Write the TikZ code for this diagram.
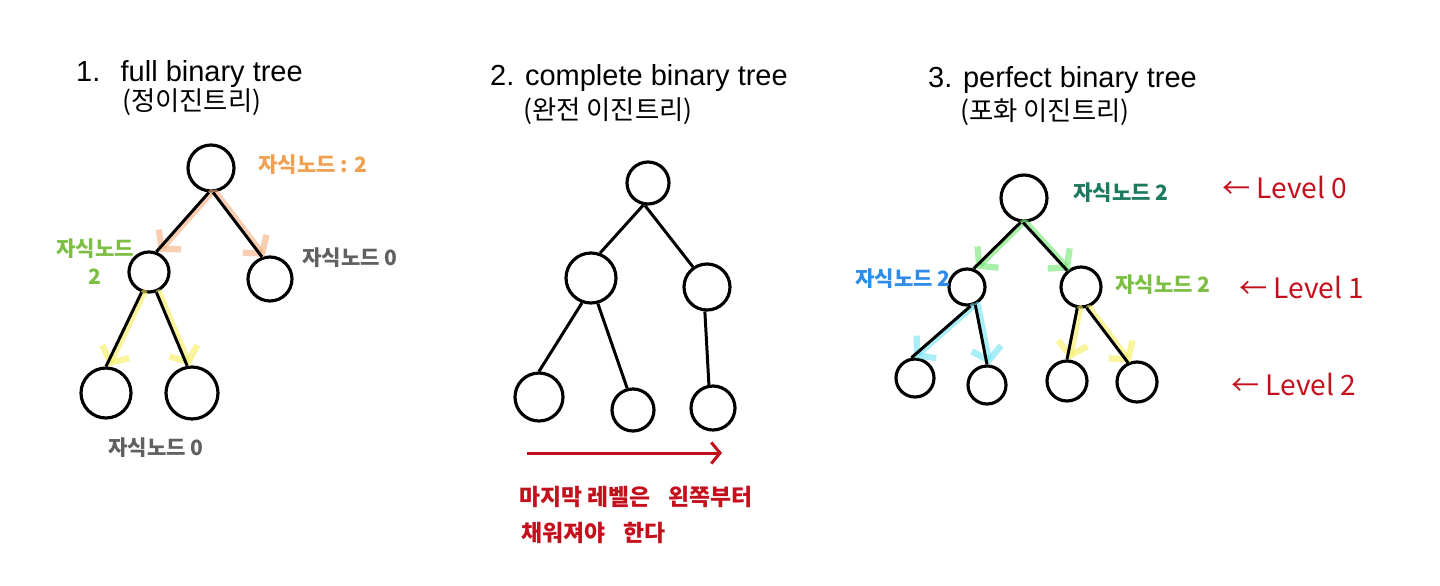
\documentclass[tikz,border=0pt]{standalone}
\usepackage{fontspec}
\setmainfont{Liberation Sans}
\newfontfamily\kr{Noto Sans CJK KR}
\usetikzlibrary{arrows.meta}
\definecolor{hintorange}{HTML}{F5AE7E}
\definecolor{hintyellow}{HTML}{F6EE5C}
\definecolor{hintcyan}{HTML}{6FE2F2}
\definecolor{hintgreen}{HTML}{6EE46E}
\definecolor{noteorange}{HTML}{F0A050}
\definecolor{notegreen}{HTML}{7CBF44}
\definecolor{notegray}{HTML}{606060}
\definecolor{noteteal}{HTML}{1C7A5E}
\definecolor{noteblue}{HTML}{2E8BE6}
\definecolor{notered}{HTML}{C4101C}

\begin{document}
\begin{tikzpicture}[x=0.02cm, y=-0.02cm,
	nd/.style={circle, draw, line width=1.8pt, inner sep=0pt},
	edge/.style={line width=1.7pt},
	hint/.style={line width=3.6pt, opacity=0.6, line cap=round, -{Straight Barb[length=7pt, width=17pt]}, transform canvas={xshift=1.5pt}},
	title/.style={anchor=base west, font=\fontsize{16.5}{20}\selectfont},
	sub/.style={anchor=west, font=\kr\fontsize{15}{18}\selectfont},
	note/.style={anchor=west, font=\kr\bfseries\fontsize{12}{14}\selectfont},
	rednote/.style={anchor=west, text=notered, font=\kr\bfseries\fontsize{13}{15}\selectfont},
	levelnote/.style={anchor=west, text=notered, font=\kr\fontsize{16}{18}\selectfont}]
	\useasboundingbox (0,0) rectangle (1440,585);

	% Titles:
	\node[title] (t1) at (70,81) {1.\hspace{0.7em}full binary tree};
	\node[sub] (s1) at (116,102) {(정이진트리)};
	\node[title] (t2) at (484,85) {2. complete binary tree};
	\node[sub] (s2) at (517,111) {(완전 이진트리)};
	\node[title] (t3) at (922,87) {3. perfect binary tree};
	\node[sub] (s3) at (954,112) {(포화 이진트리)};

	% Tree 1: full binary tree
	\node[nd, minimum size=0.92cm] (a0) at (211,168) {};
	\node[nd, minimum size=0.80cm] (a1) at (149,272) {};
	\node[nd, minimum size=0.88cm] (a2) at (270,279) {};
	\node[nd, minimum size=1.00cm] (a3) at (106,393) {};
	\node[nd, minimum size=1.04cm] (a4) at (192,393) {};
	\draw[hint, hintorange] (a0.265) -- (a1.70);
	\draw[hint, hintorange] (a0.275) -- (a2.110);
	\draw[hint, hintyellow] (a1.250) -- (a3.north);
	\draw[hint, hintyellow] (a1.290) -- (a4.100);
	\draw[edge] (a0.265) -- (a1.70);
	\draw[edge] (a0.275) -- (a2.110);
	\draw[edge] (a1.250) -- (a3.north);
	\draw[edge] (a1.290) -- (a4.100);
	\node[note, text=noteorange] (n1) at (252,165) {자식노드 : 2};
	\node[note, text=notegreen, anchor=center, align=center] (n2) at (95,262) {자식노드\\[2pt]2};
	\node[note, text=notegray] (n3) at (296,258) {자식노드 0};
	\node[note, text=notegray] (n4) at (102,448) {자식노드 0};

	% Tree 2: complete binary tree
	\node[nd, minimum size=0.84cm] (b0) at (648,183) {};
	\node[nd, minimum size=1.00cm] (b1) at (591,278) {};
	\node[nd, minimum size=0.92cm] (b2) at (707,287) {};
	\node[nd, minimum size=0.96cm] (b3) at (539,397) {};
	\node[nd, minimum size=0.84cm] (b4) at (633,410) {};
	\node[nd, minimum size=0.88cm] (b5) at (713,408) {};
	\draw[edge] (b0.258) -- (b1.70);
	\draw[edge] (b0.262) -- (b2.125);
	\draw[edge] (b1.250) -- (b3.north);
	\draw[edge] (b1.285) -- (b4.105);
	\draw[edge] (b2.265) -- (b5.100);
	\coordinate (fillstart) at (527,453);
	\coordinate (fillend) at (722,453);
	\draw[line width=1.7pt, notered, -{Straight Barb[length=5pt, width=12pt]}] (fillstart) -- (fillend);
	\node[rednote] (r1) at (513,497) {마지막 레벨은\hspace{0.8em}왼쪽부터};
	\node[rednote] (r2) at (515,533) {채워져야\hspace{0.8em}한다};

	% Tree 3: perfect binary tree
	\node[nd, minimum size=0.92cm] (c0) at (1024,198) {};
	\node[nd, minimum size=0.72cm] (c1) at (967,287) {};
	\node[nd, minimum size=0.80cm] (c2) at (1081,287) {};
	\node[nd, minimum size=0.76cm] (c3) at (915,378) {};
	\node[nd, minimum size=0.76cm] (c4) at (987,385) {};
	\node[nd, minimum size=0.80cm] (c5) at (1067,381) {};
	\node[nd, minimum size=0.80cm] (c6) at (1137,382) {};
	\draw[hint, hintgreen] (c0.262) -- (c1.70);
	\draw[hint, hintgreen] (c0.268) -- (c2.130);
	\draw[hint, hintcyan] (c1.280) -- (c3.100);
	\draw[hint, hintcyan] (c1.295) -- (c4.north);
	\draw[hint, hintyellow] (c2.260) -- (c5.north);
	\draw[hint, hintyellow] (c2.285) -- (c6.115);
	\draw[edge] (c0.262) -- (c1.70);
	\draw[edge] (c0.268) -- (c2.130);
	\draw[edge] (c1.280) -- (c3.100);
	\draw[edge] (c1.295) -- (c4.north);
	\draw[edge] (c2.260) -- (c5.north);
	\draw[edge] (c2.285) -- (c6.115);
	\node[note, text=noteteal] (m1) at (1067,193) {자식노드 2};
	\node[note, text=noteblue] (m2) at (849,279) {자식노드 2};
	\node[note, text=notegreen] (m3) at (1109,285) {자식노드 2};
	\node[levelnote] (l0) at (1216,187) {← Level 0};
	\node[levelnote] (l1) at (1233,287) {← Level 1};
	\node[levelnote] (l2) at (1225,384) {← Level 2};
\end{tikzpicture}
\end{document}
